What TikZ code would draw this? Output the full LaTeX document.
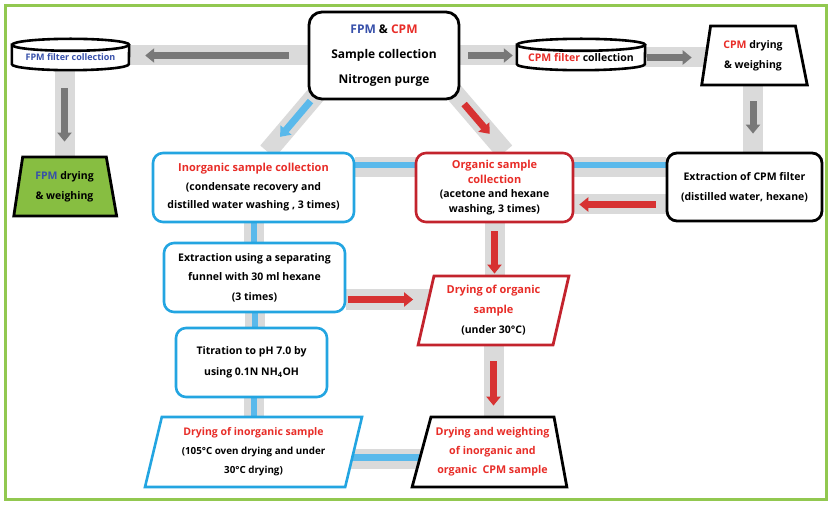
\documentclass[tikz,border=0pt]{standalone}
\usepackage{fontspec}
\setmainfont{Open Sans}
\usetikzlibrary{shapes.geometric,arrows.meta,calc}
\definecolor{framegreen}{RGB}{146,200,80}
\definecolor{fpmblue}{RGB}{55,80,170}
\definecolor{cpmred}{RGB}{232,45,40}
\definecolor{boxblue}{RGB}{35,165,225}
\definecolor{boxred}{RGB}{195,35,45}
\definecolor{fillgreen}{RGB}{135,190,65}
\definecolor{bandgray}{RGB}{218,218,218}
\definecolor{arrgray}{RGB}{120,120,120}
\definecolor{arrred}{RGB}{215,50,50}
\definecolor{arrblue}{RGB}{90,185,235}
\pgfdeclarelayer{bandlayer}
\pgfdeclarelayer{cyllayer}
\pgfsetlayers{bandlayer,cyllayer,main}
\tikzset{
  txt/.style={font=\bfseries\fontsize{10.5}{20}\selectfont, align=center, inner sep=0pt},
  rbox/.style={txt, draw, rounded corners=10pt, line width=2.6pt, fill=white},
  blackbox/.style={rbox, draw=black, line width=2.8pt},
  bluebox/.style={rbox, draw=boxblue},
  redbox/.style={rbox, draw=boxred},
  trap/.style={txt, trapezium, trapezium stretches=true, draw=black, line width=2.8pt, fill=white},
  cyl/.style={draw=black, line width=2.6pt, fill=white},
  band/.style={draw=bandgray, line width=20pt},
  bline/.style={draw=arrblue, line width=6pt},
  fat/.style={line width=7pt, -{Triangle[width=14pt,length=9pt]}},
  fatgray/.style={fat, draw=arrgray, fill=arrgray},
  fatred/.style={fat, draw=arrred, fill=arrred},
  fatblue/.style={fat, draw=arrblue, fill=arrblue},
  head/.style={font=\bfseries\fontsize{11}{#1}\selectfont},
}
\begin{document}
\begin{tikzpicture}[x=1pt,y=-1pt]
\useasboundingbox (0,0) rectangle (833,505);
\draw[framegreen, line width=3pt] (5,6) rectangle (826,499);

% nodes
\node[blackbox, rounded corners=13pt, minimum width=150pt, minimum height=87pt,
  font=\bfseries\fontsize{12}{25}\selectfont] (top) at (384,55.5)
  {{\color{fpmblue}FPM} \& {\color{cpmred}CPM}\\Sample collection\\Nitrogen purge};
\node[txt, minimum width=117pt, minimum height=25pt, font=\bfseries\fontsize{9}{10}\selectfont, text=fpmblue] (fpmf) at (70.5,57.5) {FPM filter collection};
\node[txt, minimum width=128pt, minimum height=25pt] (cpmf) at (581,57.5) {{\color{cpmred}CPM filter} collection};
\node[trap, trapezium left angle=78.5, trapezium right angle=74.8, minimum width=106pt, minimum height=59pt] (cpmd) at (753,55.5)
  {{\color{cpmred}CPM} drying\\\& weighing};
\node[trap, fill=fillgreen, trapezium left angle=78.5, trapezium right angle=76.7, minimum width=103pt, minimum height=59pt] (fpmd) at (64.5,186.5)
  {{\color{fpmblue}FPM} drying\\\& weighing};
\node[bluebox, minimum width=201pt, minimum height=69pt, font=\bfseries\fontsize{10.5}{18.5}\selectfont] (inorg) at (253.5,187.5)
  {{\color{cpmred}\fontsize{11}{18.5}\selectfont Inorganic sample collection}\\(condensate recovery and\\distilled water washing , 3 times)};
\node[redbox, minimum width=157pt, minimum height=69pt, font=\bfseries\fontsize{10.5}{14.8}\selectfont] (org) at (494.5,187.5)
  {{\color{cpmred}\fontsize{11}{14.8}\selectfont Organic sample}\\{\color{cpmred}\fontsize{11}{14.8}\selectfont collection}\\(acetone and hexane\\washing, 3 times)};
\node[blackbox, minimum width=155pt, minimum height=68pt, font=\bfseries\fontsize{10.5}{20}\selectfont] (ext) at (744.5,187)
  {Extraction of CPM filter\\(distilled water, hexane)};
\node[bluebox, minimum width=181pt, minimum height=69pt, font=\bfseries\fontsize{10.5}{19.5}\selectfont] (funnel) at (254.5,277.5)
  {Extraction using a separating\\funnel with 30 ml hexane\\(3 times)};
\node[trap, draw=boxred, trapezium left angle=76, trapezium right angle=104, minimum width=151pt, minimum height=69pt, font=\bfseries\fontsize{10.5}{20}\selectfont] (orgdry) at (493.5,310.5)
  {{\color{cpmred}\fontsize{11}{20}\selectfont Drying of organic}\\{\color{cpmred}\fontsize{11}{20}\selectfont sample}\\(under 30°C)};
\node[bluebox, minimum width=151pt, minimum height=69pt, font=\bfseries\fontsize{10.5}{21}\selectfont] (titr) at (251.5,362.5)
  {Titration to pH 7.0 by\\using 0.1N NH\textsubscript{4}OH};
\node[trap, draw=boxblue, line width=2.6pt, trapezium left angle=74.8, trapezium right angle=105.2, minimum width=217pt, minimum height=70pt, font=\bfseries\fontsize{9.8}{19}\selectfont] (inodry) at (253.5,452)
  {{\color{cpmred}\fontsize{10.5}{19}\selectfont Drying of inorganic sample}\\(105°C oven drying and under\\30°C drying)};
\node[trap, trapezium left angle=70.3, trapezium right angle=76.3, minimum width=155pt, minimum height=70pt, text=cpmred, font=\bfseries\fontsize{10.7}{19}\selectfont] (final) at (492.5,452)
  {Drying and weighting\\of inorganic and\\organic~ CPM sample};

% cylinders
\begin{pgfonlayer}{cyllayer}
\foreach \n/\r in {fpmf/58.5, cpmf/64}{
  \filldraw[cyl] (\n.north west) -- ([yshift=6pt]\n.south west)
     arc[start angle=180, end angle=360, x radius=\r pt, y radius=6pt]
     -- (\n.north east) arc[start angle=0, end angle=180, x radius=\r pt, y radius=6pt] -- cycle;
  \draw[cyl, fill=none] (\n.north west) arc[start angle=180, end angle=360, x radius=\r pt, y radius=6pt];
}
\end{pgfonlayer}

% bands
\begin{pgfonlayer}{bandlayer}
\draw[band] (top.west) -- (top.west -| fpmf.east);
\draw[band] (top.east) -- (top.east -| cpmf.west);
\draw[band] (cpmf.east) -- (cpmf.east -| cpmd.center);
\draw[band] (cpmd.south) -- (cpmd.south |- ext.north);
\draw[band] (fpmd.north |- fpmf.south) -- (fpmd.north);
\draw[band, line width=19pt] ($(top.south west)+(12,-10)$) -- ($(inorg.north)+(14,0)$);
\draw[band, line width=19pt] ($(top.south east)+(-8,-10)$) -- ($(org.north)+(10.5,0)$);
\draw[band] ([yshift=20pt]inorg.east) -- ([yshift=20pt]inorg.east -| ext.west);
\draw[band] ([yshift=-17.5pt]ext.west) -- ([yshift=-17.5pt]ext.west -| org.east);
\draw[band] (inorg.south) -- (inorg.south |- funnel.north);
\draw[band] (funnel.south) -- (funnel.south |- titr.north);
\draw[band] ([xshift=2pt]titr.south) -- ([xshift=2pt]titr.south |- inodry.north);
\draw[band] ([yshift=-22pt]funnel.east) -- ([yshift=-22pt]funnel.east -| orgdry.center);
\draw[band] (org.south) -- (org.south |- orgdry.north);
\draw[band] (orgdry.south) -- (orgdry.south |- final.north);
\draw[band] ([yshift=-7pt]inodry.center) -- ([yshift=-7pt]inodry.center -| final.center);
% blue lines
\draw[bline] ([yshift=22pt]inorg.east) -- ([yshift=22pt]inorg.east -| ext.west);
\draw[bline] (inorg.south) -- (inorg.south |- funnel.north);
\draw[bline] (funnel.south) -- (funnel.south |- titr.north);
\draw[bline] ([xshift=2pt]titr.south) -- ([xshift=2pt]titr.south |- inodry.north);
\draw[bline, line width=7pt] ([yshift=-5pt]inodry.center) -- ([yshift=-5pt]inodry.center -| final.center);
\end{pgfonlayer}

% arrows
\draw[fatgray, shorten <=19pt, shorten >=16pt] (top.west) -- (top.west -| fpmf.east);
\draw[fatgray, shorten <=8pt, shorten >=4pt] (top.east) -- (top.east -| cpmf.west);
\draw[fatgray, shorten <=2pt, shorten >=13pt] (cpmf.east) -- (cpmf.east -| cpmd.west);
\draw[fatgray, shorten <=15pt, shorten >=18pt] (cpmd.south) -- (cpmd.south |- ext.north);
\draw[fatgray, shorten <=18pt, shorten >=14pt] (fpmd.north |- fpmf.south) -- (fpmd.north);
\draw[fatblue, shorten <=14pt, shorten >=19.5pt] ($(top.south west)+(12,-10)$) -- ($(inorg.north)+(14,0)$);
\draw[fatred, shorten <=18pt, shorten >=23.5pt] ($(top.south east)+(-8,-10)$) -- ($(org.north)+(10.5,0)$);
\draw[fatred, shorten <=10pt, shorten >=5pt] ([yshift=-17.5pt]ext.west) -- ([yshift=-17.5pt]ext.west -| org.east);
\draw[fatred, shorten <=2pt, shorten >=11.5pt] ([yshift=-22pt]funnel.east) -- ([yshift=-22pt]funnel.east -| orgdry.west);
\draw[fatred, shorten <=8pt, shorten >=1pt] (org.south) -- (org.south |- orgdry.north);
\draw[fatred, shorten <=15pt, shorten >=10pt] (orgdry.south) -- (orgdry.south |- final.north);
\end{tikzpicture}
\end{document}
